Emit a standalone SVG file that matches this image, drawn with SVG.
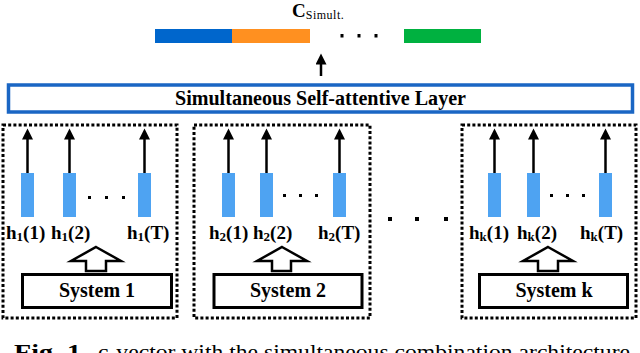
<svg xmlns="http://www.w3.org/2000/svg" width="640" height="353" viewBox="0 0 640 353">
<style>
.ser{font-family:"Liberation Serif","Times New Roman",serif;}
.b{font-weight:bold;}
.dot{fill:#000;}
.grp{fill:none;stroke:#000;stroke-width:3;stroke-dasharray:3 2.2;}
.sys{fill:#fff;stroke:#000;stroke-width:3;}
.bar{fill:#4ea3f2;}
.arr{stroke:#000;stroke-width:2.5;fill:none;}
.hol{fill:#fff;stroke:#000;stroke-width:2.5;stroke-linejoin:miter;}
.lbl{font-family:"Liberation Serif","Times New Roman",serif;font-weight:bold;font-size:19px;fill:#000;}
.sub{font-size:13px;}
.syst{font-family:"Liberation Serif","Times New Roman",serif;font-weight:bold;font-size:20px;text-anchor:middle;}
</style>
<defs>
<marker id="ah" viewBox="0 0 12 12" markerWidth="12" markerHeight="11" refX="6" refY="6" orient="auto" markerUnits="userSpaceOnUse">
<path d="M0,0 L12,6 L0,12 z" fill="#000"/>
</marker>
</defs>

<g id="output-vector">
<text class="ser b" x="292" y="17" font-size="19">C<tspan class="ser" font-weight="normal" font-size="12" dy="2" textLength="38">Simult.</tspan></text>
<rect x="155" y="29" width="77" height="14" fill="#0066cc"/>
<rect x="232" y="29" width="78" height="14" fill="#ff9020"/>
<rect class="dot" x="340.5" y="34" width="3" height="3.5"/>
<rect class="dot" x="357.5" y="34" width="3" height="3.5"/>
<rect class="dot" x="374.5" y="34" width="3" height="3.5"/>
<rect x="404" y="29" width="77" height="14" fill="#00b140"/>
</g>

<g id="attention-layer">
<rect x="8.5" y="85" width="624" height="27" fill="#fff" stroke="#1a66c4" stroke-width="3.5"/>
<text class="ser b" x="320.5" y="105" font-size="20" text-anchor="middle" textLength="291" lengthAdjust="spacingAndGlyphs">Simultaneous Self-attentive Layer</text>
</g>

<g id="system1-group">
<rect class="grp" x="3" y="125" width="174" height="193"/>
<rect class="bar" x="21" y="173" width="13" height="44"/>
<rect class="bar" x="63" y="173" width="13" height="44"/>
<rect class="bar" x="138" y="173" width="13" height="44"/>
<rect class="dot" x="88" y="196" width="3" height="3"/>
<rect class="dot" x="105" y="196" width="3" height="3"/>
<rect class="dot" x="122" y="196" width="3" height="3"/>
<text class="lbl" x="6" y="239">h<tspan class="sub" dy="2">1</tspan><tspan dy="-2">(1)</tspan></text>
<text class="lbl" x="51" y="239">h<tspan class="sub" dy="2">1</tspan><tspan dy="-2">(2)</tspan></text>
<text class="lbl" x="127" y="239">h<tspan class="sub" dy="2">1</tspan><tspan dy="-2">(T)</tspan></text>
<g id="system1">
<rect class="sys" x="22.5" y="274.5" width="149" height="33"/>
<text class="syst" x="97" y="297">System 1</text>
</g>
</g>

<g id="system2-group">
<rect class="grp" x="194" y="125" width="176" height="193"/>
<rect class="bar" x="222" y="173" width="13" height="44"/>
<rect class="bar" x="260" y="173" width="13" height="44"/>
<rect class="bar" x="333" y="173" width="13" height="44"/>
<rect class="dot" x="283" y="194" width="3" height="3"/>
<rect class="dot" x="299" y="194" width="3" height="3"/>
<rect class="dot" x="315" y="194" width="3" height="3"/>
<text class="lbl" x="209" y="239">h<tspan class="sub" dy="2">2</tspan><tspan dy="-2">(1)</tspan></text>
<text class="lbl" x="253" y="239">h<tspan class="sub" dy="2">2</tspan><tspan dy="-2">(2)</tspan></text>
<text class="lbl" x="318" y="239">h<tspan class="sub" dy="2">2</tspan><tspan dy="-2">(T)</tspan></text>
<g id="system2">
<rect class="sys" x="214" y="274.5" width="148" height="33"/>
<text class="syst" x="288" y="297">System 2</text>
</g>
</g>

<g id="between-dots">
<rect class="dot" x="388" y="217" width="4" height="4"/>
<rect class="dot" x="415" y="217" width="4" height="4"/>
<rect class="dot" x="444" y="217" width="4" height="4"/>
</g>

<g id="systemk-group">
<rect class="grp" x="462" y="125" width="174" height="193"/>
<rect class="bar" x="488" y="173" width="13" height="44"/>
<rect class="bar" x="527" y="173" width="13" height="44"/>
<rect class="bar" x="599" y="173" width="13" height="44"/>
<rect class="dot" x="550" y="194" width="3" height="3"/>
<rect class="dot" x="566" y="194" width="3" height="3"/>
<rect class="dot" x="582" y="194" width="3" height="3"/>
<text class="lbl" x="469" y="239">h<tspan class="sub" dy="2">k</tspan><tspan dy="-2">(1)</tspan></text>
<text class="lbl" x="517" y="239">h<tspan class="sub" dy="2">k</tspan><tspan dy="-2">(2)</tspan></text>
<text class="lbl" x="580" y="239">h<tspan class="sub" dy="2">k</tspan><tspan dy="-2">(T)</tspan></text>
<g id="systemk">
<rect class="sys" x="479.5" y="274.5" width="148" height="33"/>
<text class="syst" x="554" y="297">System k</text>
</g>
</g>

<g id="connectors">
<line class="arr" x1="321" y1="76" x2="321" y2="59" marker-end="url(#ah)"/>
<line class="arr" x1="27.5" y1="173" x2="27.5" y2="134" marker-end="url(#ah)"/>
<line class="arr" x1="69.5" y1="173" x2="69.5" y2="134" marker-end="url(#ah)"/>
<line class="arr" x1="144.5" y1="173" x2="144.5" y2="134" marker-end="url(#ah)"/>
<line class="arr" x1="228.5" y1="173" x2="228.5" y2="134" marker-end="url(#ah)"/>
<line class="arr" x1="266.5" y1="173" x2="266.5" y2="134" marker-end="url(#ah)"/>
<line class="arr" x1="339.5" y1="173" x2="339.5" y2="134" marker-end="url(#ah)"/>
<line class="arr" x1="494.5" y1="173" x2="494.5" y2="134" marker-end="url(#ah)"/>
<line class="arr" x1="533.5" y1="173" x2="533.5" y2="134" marker-end="url(#ah)"/>
<line class="arr" x1="605.5" y1="173" x2="605.5" y2="134" marker-end="url(#ah)"/>
<polygon class="hol" points="96,247 121,261 106,261 106,271 86,271 86,261 71,261"/>
<polygon class="hol" points="282,247 307,261 291,261 291,271 272,271 272,261 257,261"/>
<polygon class="hol" points="548,247 573,261 558,261 558,271 538,271 538,261 523,261"/>
</g>

<g id="caption">
<text class="ser b" x="14" y="359" font-size="21" textLength="74" lengthAdjust="spacingAndGlyphs">Fig. 1.</text>
<text class="ser" x="98" y="359" font-size="21" textLength="532" lengthAdjust="spacingAndGlyphs">c-vector with the simultaneous combination architecture</text>
</g>
</svg>
